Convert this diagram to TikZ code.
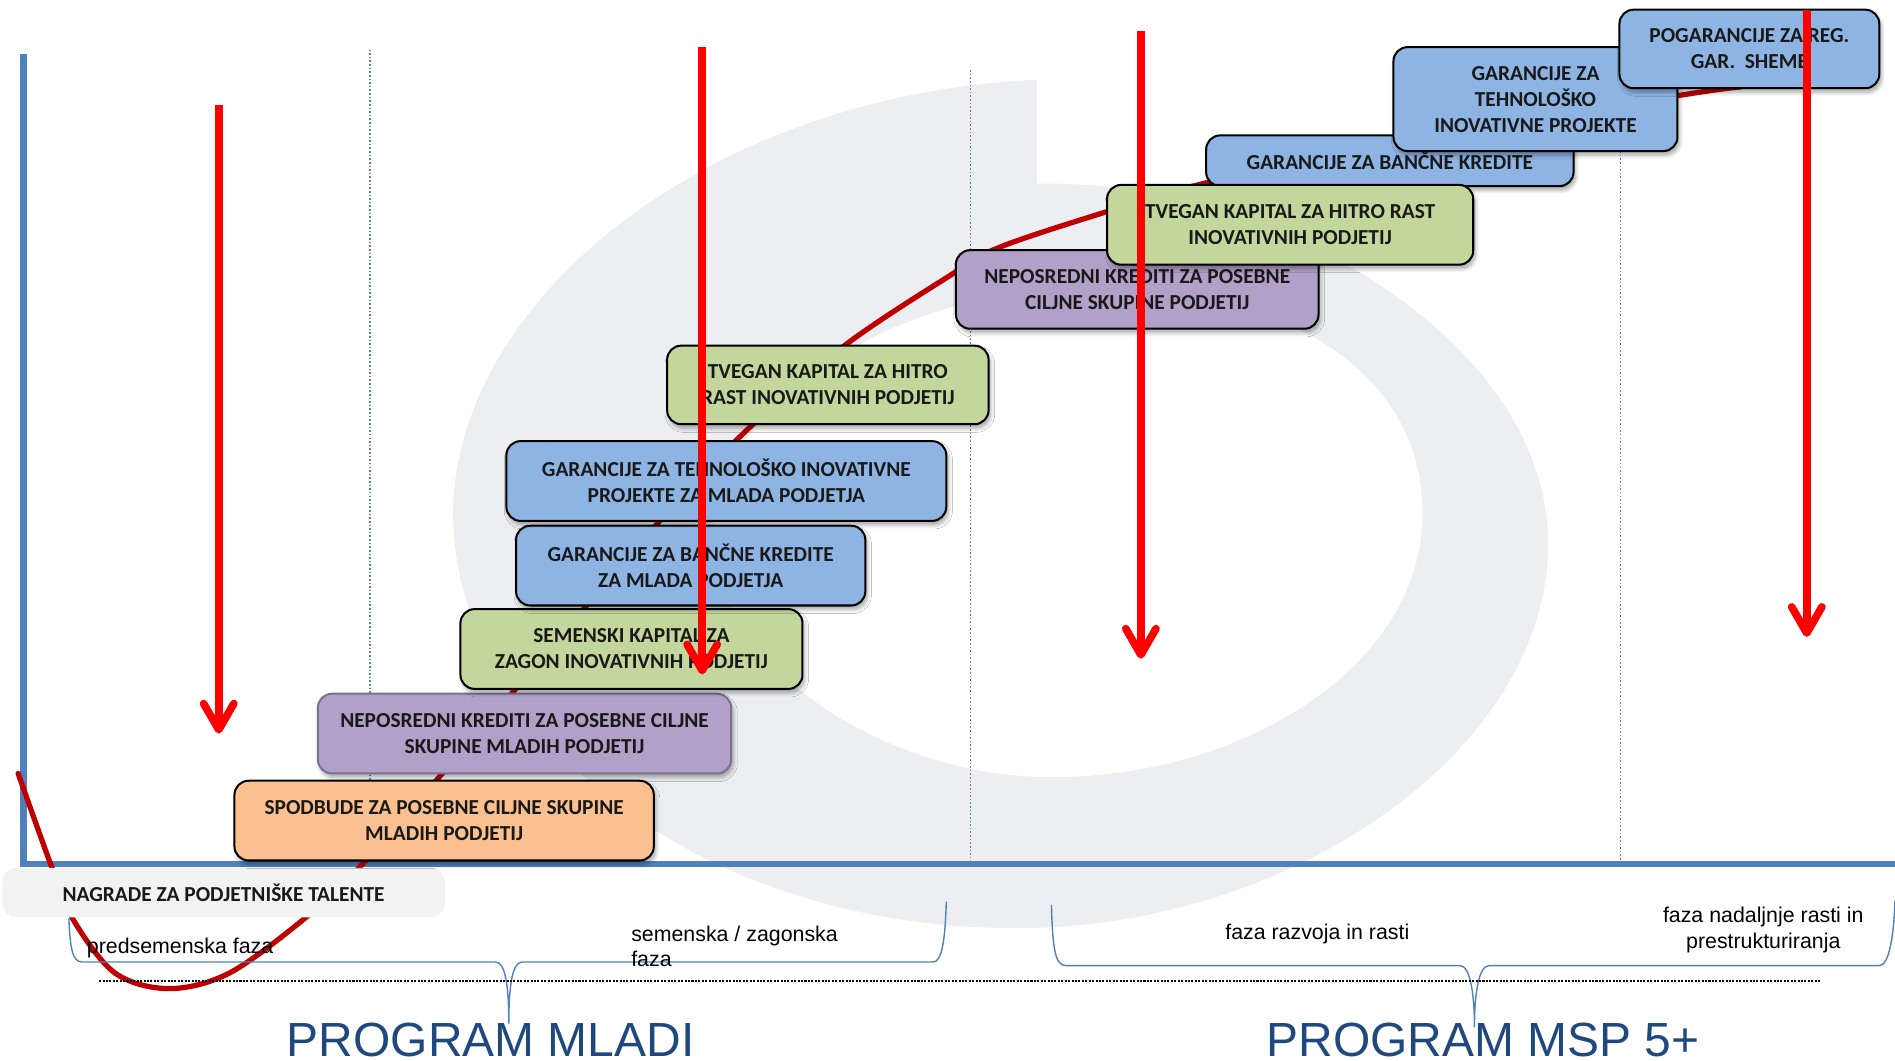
\documentclass[tikz,border=0pt]{standalone}
\usepackage{fontspec}
\setmainfont{Carlito}
\newfontfamily\capfont{Liberation Sans}
\usetikzlibrary{arrows.meta,shadows,shadows.blur}
\definecolor{logogrey}{HTML}{EDEEF2}
\definecolor{axisblue}{HTML}{4F81BD}
\definecolor{curvered}{HTML}{C00000}
\definecolor{boxorange}{HTML}{FAC090}
\definecolor{boxpurple}{HTML}{B1A0C7}
\definecolor{boxgreen}{HTML}{C3D69B}
\definecolor{boxblue}{HTML}{8EB4E3}
\definecolor{titleblue}{HTML}{1F497D}
\tikzset{
  bx/.style={draw=black,line width=1pt,rounded corners=7pt,align=center,inner sep=0pt,
    font=\bfseries\fontsize{10.6}{12.9}\selectfont,text=black!90,
    blur shadow={shadow xshift=1pt,shadow yshift=-2pt,shadow blur steps=6,shadow opacity=35,shadow blur radius=2pt}},
  guide/.style={draw=axisblue,line width=.8pt,densely dotted},
  axisline/.style={draw=axisblue,line width=3.2pt},
  brace/.style={draw=axisblue,line width=.7pt},
  down/.style={draw=red,line width=3.8pt,-{Straight Barb[length=13pt,width=15pt,round]}},
  caption/.style={font=\capfont\fontsize{10.6}{12.6}\selectfont,text=black,align=center,inner sep=0pt},
  progtitle/.style={font=\capfont\fontsize{23.8}{28}\selectfont,text=titleblue,inner sep=0pt,text depth=0pt},
}
\newcommand\bxn[7]{\node[bx,fill=#2,minimum width={(#5-#3)*0.6pt},minimum height={(#6-#4)*0.6pt}] (#1) at ({(#3+#5)/2},{(#4+#6)/2}) {#7};}
\begin{document}
\begin{tikzpicture}[x=0.6pt,y=-0.6pt]
\useasboundingbox (0,0) rectangle (1568,877.9);
% logo
\fill[logogrey] (858,152) .. controls (1050,148) and (1281,280) .. (1281,450) .. controls (1281,620) and (1070,768) .. (841,768) .. controls (570,768) and (375,600) .. (375,425) .. controls (375,250) and (585,78) .. (858,66) -- cycle;
\fill[white] (1177,425) .. controls (1177,550) and (1030,643) .. (871,643) .. controls (730,643) and (590,550) .. (590,440) .. controls (590,340) and (740,235) .. (900,240) .. controls (1050,235) and (1177,300) .. (1177,425) -- cycle;
% guides
\coordinate (g1t) at (306,41); \coordinate (g1b) at (306,715);
\coordinate (g2t) at (803,58); \coordinate (g2b) at (803,712);
\coordinate (g3t) at (1341,125); \coordinate (g3b) at (1341,712);
\draw[guide] (g1t) -- (g1b);
\draw[guide] (g2t) -- (g2b);
\draw[guide] (g3t) -- (g3b);
% axes
\coordinate (origin) at (19.5,715); \coordinate (ytop) at (19.5,45); \coordinate (xend) at (1568,715);
\draw[axisline] (ytop) -- (origin) -- (xend);
% growth curve
\draw[curvered,line width=2.6pt,line cap=round] plot[smooth,tension=.55] coordinates {(15,640)(43,718)(60,760)(95,805)(140,818)(190,805)(252,760)(298,717)(366,640)(425,572)(545,432)(622,352)(700,285)(786,228)(826,205)(913,176)(995,152)(1150,118)(1389,79)(1440,72)};
% boxes
\node[fill=black!5,rounded corners=7pt,minimum width={366*0.6pt},minimum height={41*0.6pt},inner sep=0pt,font=\bfseries\fontsize{10.6}{12.9}\selectfont,text=black!90] (nagrade) at (185,738.5) {NAGRADE ZA PODJETNIŠKE TALENTE};
\bxn{spodbude}{boxorange}{194}{646}{541}{712}{SPODBUDE ZA POSEBNE CILJNE SKUPINE\\MLADIH PODJETIJ}
\node[bx,fill=boxpurple,draw=boxpurple!70!black,minimum width={342*0.6pt},minimum height={66*0.6pt}] (nepos1) at (434,607) {NEPOSREDNI KREDITI ZA POSEBNE CILJNE\\SKUPINE MLADIH PODJETIJ};
\bxn{semenski}{boxgreen}{381}{504}{664}{570}{SEMENSKI KAPITAL ZA\\ZAGON INOVATIVNIH PODJETIJ}
\bxn{banc1}{boxblue}{427}{435}{716}{501}{GARANCIJE ZA BANČNE KREDITE\\ZA MLADA PODJETJA}
\bxn{tehn1}{boxblue}{419}{365}{783}{431}{GARANCIJE ZA TEHNOLOŠKO INOVATIVNE\\PROJEKTE ZA MLADA PODJETJA}
\bxn{tvegan1}{boxgreen}{552}{286}{818}{351}{TVEGAN KAPITAL ZA HITRO\\RAST INOVATIVNIH PODJETIJ}
\bxn{banc2}{boxblue}{998}{112}{1302}{154}{GARANCIJE ZA BANČNE KREDITE}
\bxn{nepos2}{boxpurple}{791}{207}{1091}{272}{NEPOSREDNI KREDITI ZA POSEBNE\\CILJNE SKUPINE PODJETIJ}
\bxn{tvegan2}{boxgreen}{916}{153}{1219}{219}{TVEGAN KAPITAL ZA HITRO RAST\\INOVATIVNIH PODJETIJ}
\bxn{tehn2}{boxblue}{1153}{39}{1388}{125}{GARANCIJE ZA\\TEHNOLOŠKO\\INOVATIVNE PROJEKTE}
\bxn{pog}{boxblue}{1340}{8}{1555}{73}{POGARANCIJE ZA REG.\\GAR.\ \ SHEME}
% braces
\coordinate (b1s) at (57,760); \coordinate (b1e) at (783,746); \coordinate (b1tip) at (421,847);
\coordinate (b2s) at (870,749); \coordinate (b2e) at (1568,745); \coordinate (b2tip) at (1220,850);
\draw[brace] (b1s) .. controls (58,785) and (60,796) .. (68,796) -- (410,796) .. controls (418,796) and (421,815) .. (b1tip) .. controls (421,815) and (424,796) .. (432,796) -- (772,796) .. controls (779,796) and (782,780) .. (b1e);
\draw[brace] (b2s) .. controls (871,785) and (873,799) .. (882,799) -- (1208,799) .. controls (1216,799) and (1220,820) .. (b2tip) .. controls (1220,820) and (1224,799) .. (1232,799) -- (1555,799) .. controls (1563,799) and (1567,775) .. (b2e);
% dotted separator
\coordinate (sepL) at (82,812); \coordinate (sepR) at (1506,812);
\draw[black,line width=1.1pt,dash pattern=on 1pt off .7pt] (sepL) -- (sepR);
% captions
\node[caption] (c1) at (149,784.5) {predsemenska faza};
\node[caption,align=left,anchor=west] (c2) at (522,783) {semenska / zagonska\\faza};
\node[caption] (c3) at (1090,772.5) {faza razvoja in rasti};
\node[caption] (c4) at (1459,769.5) {faza nadaljnje rasti in\\prestrukturiranja};
\node[progtitle] (p1) at (406,860) {PROGRAM MLADI};
\node[progtitle] (p2) at (1227,860) {PROGRAM MSP 5+};
% arrows
\coordinate (a1t) at (181,87); \coordinate (a1b) at (181,607);
\coordinate (a2t) at (581,39); \coordinate (a2b) at (581,558);
\coordinate (a3t) at (944,26); \coordinate (a3b) at (944,545);
\coordinate (a4t) at (1495,8); \coordinate (a4b) at (1495,527);
\draw[down] (a1t) -- (a1b);
\draw[down] (a2t) -- (a2b);
\draw[down] (a3t) -- (a3b);
\draw[down] (a4t) -- (a4b);
\end{tikzpicture}
\end{document}
